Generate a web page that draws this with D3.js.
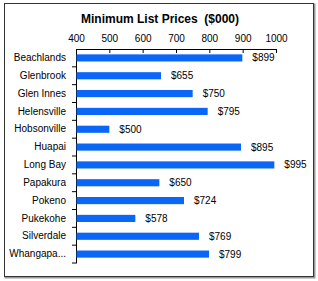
<!DOCTYPE html>
<html>
<head>
<meta charset="utf-8">
<script src="https://d3js.org/d3.v7.min.js"></script>
<style>
  body { margin: 0; background: #fff; }
  text { font-family: "Liberation Sans", Arial, sans-serif; fill: #000; }
</style>
</head>
<body>
<div class="chart"></div>
<script>
var suburbs = ["Beachlands", "Glenbrook", "Glen Innes", "Helensville", "Hobsonville", "Huapai",
  "Long Bay", "Papakura", "Pokeno", "Pukekohe", "Silverdale", "Whangapa..."];
var minPrices = [899, 655, 750, 795, 500, 895, 995, 650, 724, 578, 769, 799];
var xTicks = [400, 500, 600, 700, 800, 900, 1000];

var svgWidth = 318;
var svgHeight = 281;
var margin = { top: 49, right: 42, bottom: 18, left: 76 };
var chartWidth = 276 - margin.left;
var chartHeight = 263 - margin.top;

var svg = d3.select(".chart")
  .append("svg")
  .attr("width", svgWidth)
  .attr("height", svgHeight);

// frame with a little shadow on right / bottom
svg.append("rect")
  .attr("x", 5.5).attr("y", 4.5)
  .attr("width", 309).attr("height", 273)
  .attr("fill", "none").attr("stroke", "#9a9a9a").attr("stroke-width", 2);
svg.append("rect")
  .attr("x", 4.5).attr("y", 3.5)
  .attr("width", 309).attr("height", 273)
  .attr("fill", "#fff").attr("stroke", "#333").attr("stroke-width", 1);

svg.append("text")
  .attr("x", 160).attr("y", 23)
  .attr("text-anchor", "middle")
  .style("font-size", "12px").style("font-weight", "bold")
  .style("white-space", "pre")
  .text("Minimum List Prices  ($000)");

var chart = svg.append("g")
  .attr("transform", "translate(" + margin.left + "," + margin.top + ")");

var xScale = d3.scaleLinear().domain([400, 1000]).range([0, chartWidth]);
var yScale = d3.scaleBand().domain(suburbs).range([0, chartHeight]).paddingInner(0.6).paddingOuter(0.3);

var xAxis = d3.axisTop(xScale).tickValues(xTicks).tickFormat(d3.format("d"))
  .tickSizeInner(-4).tickSizeOuter(0).tickPadding(6);
var xg = chart.append("g").attr("class", "x axis").call(xAxis);
xg.selectAll("text").attr("dy", "0").attr("y", -7).style("font-size", "10px");
xg.select(".domain").attr("stroke", "#000");

// y axis: plain line, ticks at band boundaries
var yg = chart.append("g").attr("class", "y axis")
  .call(d3.axisLeft(yScale).tickSize(0).tickPadding(10));
yg.selectAll("text").style("font-size", "10px");
yg.select(".domain").attr("stroke", "#000");
var step = yScale.step();
var bounds = d3.range(1, suburbs.length + 1).map(function(i) {
  return yScale(suburbs[0]) - yScale.paddingOuter() * step + i * step;
});
yg.selectAll(".btick").data(bounds).enter().append("line")
  .attr("x1", -4).attr("x2", 0)
  .attr("y1", function(d) { return d; }).attr("y2", function(d) { return d; })
  .attr("stroke", "#000");

chart.selectAll(".bar").data(suburbs).enter().append("rect")
  .attr("class", "bar")
  .attr("x", 0.5)
  .attr("y", function(d) { return yScale(d); })
  .attr("width", function(d, i) { return xScale(minPrices[i]) - 0.5; })
  .attr("height", yScale.bandwidth())
  .attr("fill", "#0a66f7");

chart.selectAll(".val").data(suburbs).enter().append("text")
  .attr("class", "val")
  .attr("x", function(d, i) { return xScale(minPrices[i]) + 10; })
  .attr("y", function(d) { return yScale(d) + yScale.bandwidth() / 2; })
  .attr("dy", "0.35em")
  .style("font-size", "10px")
  .text(function(d, i) { return "$" + minPrices[i]; });
</script>
</body>
</html>
